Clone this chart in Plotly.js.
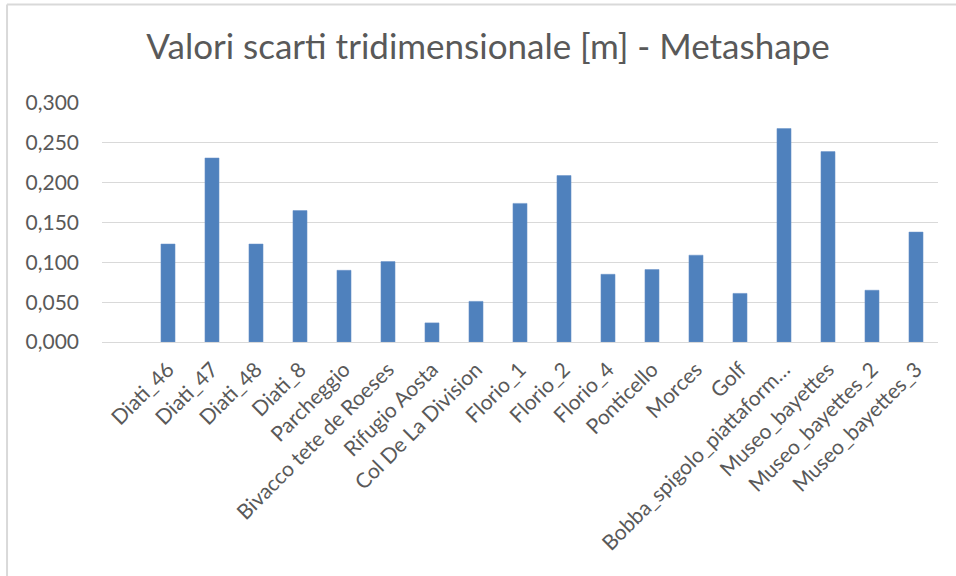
<!DOCTYPE html>
<html>
<head>
<meta charset="utf-8">
<script src="https://cdn.plot.ly/plotly-3.0.1.min.js"></script>
<style>html,body{margin:0;padding:0;background:#fff;}#chart{width:956px;height:576px;}</style>
</head>
<body>
<div id="chart"></div>
<script>
var categories = ["Diati_46","Diati_47","Diati_48","Diati_8","Parcheggio","Bivacco tete de Roeses","Rifugio Aosta","Col De La Division","Florio_1","Florio_2","Florio_4","Ponticello","Morces","Golf","Bobba_spigolo_piattaform\u2026","Museo_bayettes","Museo_bayettes_2","Museo_bayettes_3"];
var values = [0.123,0.231,0.123,0.165,0.090,0.101,0.024,0.051,0.174,0.209,0.085,0.091,0.109,0.061,0.268,0.239,0.065,0.138];
var yTicks = [0,0.05,0.1,0.15,0.2,0.25,0.3];

var txt = '#595959';
var font = 'Lato, "Open Sans", sans-serif';
var grid = '#d9d9d9';

var data = [{
  type: 'bar',
  x: categories,
  y: values,
  marker: {color: '#4F81BD', line: {color: '#6a93c8', width: 0.5}},
  hoverinfo: 'x+y'
}];

var layout = {
  width: 956, height: 576,
  margin: {l: 102, r: 18, t: 103, b: 234},
  paper_bgcolor: '#ffffff', plot_bgcolor: '#ffffff',
  separators: ', ',
  bargap: 0.68,
  showlegend: false,
  font: {family: font, color: txt},
  title: {
    text: 'Valori scarti tridimensionale [m] - Metashape',
    font: {family: font, size: 35, color: txt},
    xref: 'container', yref: 'container',
    x: 0.5105, xanchor: 'center', y: 0.918, yanchor: 'middle'
  },
  xaxis: {
    type: 'category',
    range: [-1.5, 17.5],
    tickangle: -45,
    tickfont: {family: font, size: 21, color: txt},
    showgrid: false, zeroline: false,
    showline: true, linecolor: grid, linewidth: 1,
    ticks: '', ticklabelstandoff: 6,
    fixedrange: true
  },
  yaxis: {
    range: [0, 0.3],
    tickvals: yTicks,
    tickformat: '.3f',
    tickfont: {family: font, size: 21, color: txt},
    showgrid: true, gridcolor: grid, gridwidth: 1,
    zeroline: false, showline: false,
    ticks: '', ticklabelstandoff: 22,
    fixedrange: true
  },
  shapes: [
    {type: 'line', xref: 'paper', yref: 'paper', x0: -0.1136, x1: 1.03, y0: 1.412, y1: 1.412, line: {color: grid, width: 2}},
    {type: 'line', xref: 'paper', yref: 'paper', x0: -0.1136, x1: -0.1136, y0: 1.412, y1: -1.0, line: {color: grid, width: 2}}
  ]
};

Plotly.newPlot('chart', data, layout, {displayModeBar: false, staticPlot: true});
</script>
</body>
</html>
